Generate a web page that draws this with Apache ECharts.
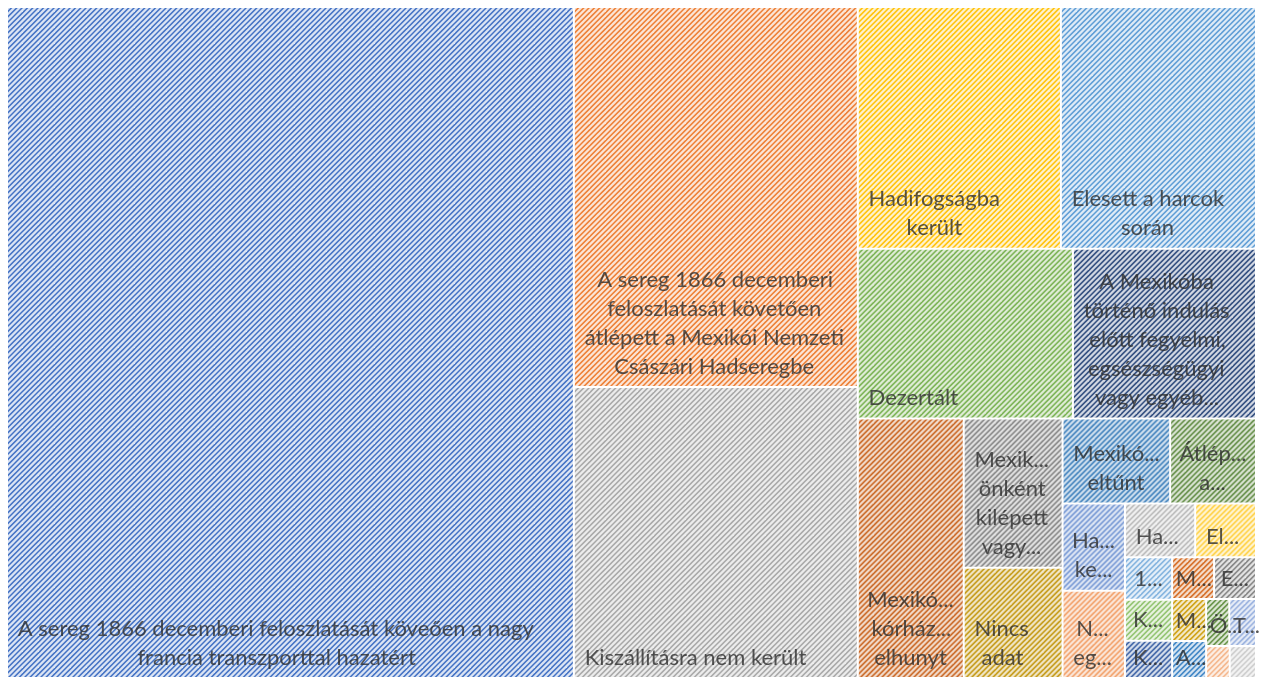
<!DOCTYPE html>
<html>
<head>
<meta charset="utf-8">
<title>Treemap</title>
<script src="https://cdn.jsdelivr.net/npm/echarts@6/dist/echarts.min.js"></script>
<style>
  html, body { margin: 0; padding: 0; background: #fff; }
  #chart { width: 1263px; height: 677px; }
</style>
</head>
<body>
<div id="chart"></div>
<script>
  // tile labels, with the line breaks the original chart used
  const names = [
    'A sereg 1866 decemberi feloszlatását köveően a nagy\nfrancia transzporttal hazatért',
    'A sereg 1866 decemberi\nfeloszlatását követően\nátlépett a Mexikói Nemzeti\nCsászári Hadseregbe',
    'Kiszállításra nem került',
    'Hadifogságba\nkerült',
    'Elesett a harcok\nsorán',
    'Dezertált',
    'A Mexikóba\ntörténő indulás\nelőtt fegyelmi,\negsészségügyi\nvagy egyéb\nokból leszerelték',
    'Mexikóban\nkórházban\nelhunyt',
    'Mexikóban\nönként\nkilépett\nvagy\nleszerelt',
    'Nincs\nadat',
    'Mexikóban\neltűnt',
    'Átlépett\na\nköztársasági\nhadseregbe',
    'Hazaszállításra\nkerült',
    'Nem\negyértelmű',
    'Hadbíróság elé\nállították',
    'Elbocsátották',
    '1867 után\nhazatért',
    'Kivégezték',
    'Kórházban\nmaradt',
    'Megszökött',
    'Egyéb',
    'Meggyilkolták',
    'Amerikába\ntávozott',
    'Öngyilkos\nlett',
    'Továbbszolgált',
    'Baleset\náldozata lett',
    'Párbajban\nelesett'
  ];

  // share of the men, %
  const values = [
    45.40, 12.88, 9.86, 5.86, 5.63, 4.36, 3.71, 3.28, 1.76, 1.30,
    1.09, 0.87, 0.65, 0.65, 0.45, 0.39, 0.24, 0.23, 0.21, 0.21,
    0.21, 0.17, 0.15, 0.13, 0.15, 0.09, 0.10
  ];

  const colors = [
    '#4472C4', '#ED7D31', '#A5A5A5', '#FFC000', '#5B9BD5', '#70AD47',
    '#264478', '#C55A11', '#7B7B7B', '#BF9000', '#2E75B6', '#548235',
    '#698ED0', '#F1975A', '#B7B7B7', '#FFCD33', '#7CAFDD', '#8CC168',
    '#335AA1', '#D26012', '#7C7C7C', '#CC9A00', '#327DC2', '#5A8A39',
    '#8FAADC', '#F4B183', '#C9C9C9'
  ];

  // tiles that share one strip of the treemap, in cutting order
  const strips = [
    [0], [1, 2], [3, 4], [5, 6], [7], [8, 9], [10, 11], [12, 13],
    [14, 15], [16, 17, 18], [19, 20], [21, 22], [23, 24], [25, 26]
  ];

  const FONT_SIZE = 22;
  const LINE_H = 29;
  const PAD_X = 10;      // where the text block starts
  const FIT_PAD = 8.5;   // room kept on each side when truncating
  const PAD_B = 5;
  const ELL = '...';

  function tint(hex, k) {
    const n = parseInt(hex.slice(1), 16);
    const m = c => Math.round(c + (255 - c) * k);
    return `rgb(${m(n >> 16)},${m((n >> 8) & 255)},${m(n & 255)})`;
  }

  // wide upward diagonal hatch
  function hatch(hex) {
    const c = document.createElement('canvas');
    c.width = c.height = 16;
    const ctx = c.getContext('2d');
    ctx.fillStyle = tint(hex, 0.81);
    ctx.fillRect(0, 0, 16, 16);
    ctx.strokeStyle = hex;
    ctx.lineWidth = 1.5;
    const step = 16 / 3;
    for (let k = -2; k <= 8; k++) {
      const s = k * step;
      ctx.beginPath();
      ctx.moveTo(s + 4, -4);
      ctx.lineTo(s - 20, 20);
      ctx.stroke();
    }
    return { image: c, repeat: 'repeat' };
  }

  // text measuring, for Excel-like wrapping and truncation
  const meter = document.createElement('canvas').getContext('2d');
  meter.font = FONT_SIZE + 'px Lato';
  const tw = s => meter.measureText(s).width;
  const SP = tw(' ');
  const HSP = tw('\u200A');

  function gap(px) {
    if (px <= 0) return '';
    const n = Math.floor(px / SP);
    const rest = px - n * SP;
    let s = ' '.repeat(n);
    if (HSP > 0.3) s += '\u200A'.repeat(Math.round(rest / HSP));
    else if (rest > SP / 2) s += ' ';
    return s;
  }

  function clip(word, avail) {
    if (tw(word) <= avail) return word;
    let n = word.length - 1;
    while (n > 1 && tw(word.slice(0, n) + ELL) > avail) n--;
    return word.slice(0, n) + ELL;
  }

  function excelLabel(params) {
    const data = chart.getModel().getSeriesByIndex(0).getData();
    const lay = data.getItemLayout(params.dataIndex);
    if (!lay) return params.name;
    const w = lay.width - 2;
    const h = lay.height - 2;
    const avail = w - 2 * FIT_PAD;
    const maxLines = Math.floor((h - PAD_B) / LINE_H);
    if (maxLines < 1) return '';

    let lines = [];
    params.name.split('\n').forEach(part => {
      if (part.includes(' ') && tw(part) <= w - 8) {
        lines.push(part);
        return;
      }
      let cur = '';
      part.split(' ').forEach(word => {
        const trial = cur ? cur + ' ' + word : word;
        if (tw(trial) <= avail) {
          cur = trial;
          return;
        }
        if (cur) lines.push(cur);
        cur = clip(word, avail);
      });
      if (cur) lines.push(cur);
    });

    if (lines.length > maxLines) {
      lines = lines.slice(0, maxLines);
      const last = lines[maxLines - 1];
      if (!last.endsWith(ELL)) {
        let n = last.length;
        while (n > 1 && tw(last.slice(0, n) + ELL) > avail) n--;
        lines[maxLines - 1] = last.slice(0, n).replace(/\s+$/, '') + ELL;
      }
    }

    // block sits at the left, its lines are centred inside it
    const widths = lines.map(tw);
    const block = Math.max(...widths);
    const left = Math.min(PAD_X, Math.max(3, (w - block) / 2));
    return lines
      .map((l, i) => gap(left + (block - widths[i]) / 2) + l)
      .join('\n');
  }

  const leaf = i => ({
    name: names[i],
    value: values[i],
    itemStyle: { color: hatch(colors[i]), borderWidth: 1, borderColor: '#fff' }
  });

  const data = strips.map(s => s.length === 1
    ? leaf(s[0])
    : { name: '', children: s.map(leaf) });

  const chart = echarts.init(document.getElementById('chart'));
  chart.setOption({
    animation: false,
    tooltip: { show: false },
    series: [{
      type: 'treemap',
      left: 7,
      top: 7,
      width: 1249,
      height: 671,
      squareRatio: 0.001,
      sort: false,
      roam: false,
      nodeClick: false,
      visibleMin: 0,
      breadcrumb: { show: false },
      itemStyle: { borderWidth: 0, gapWidth: 0, borderColor: '#fff' },
      upperLabel: { show: false },
      label: {
        show: true,
        position: 'insideBottomLeft',
        align: 'left',
        color: 'rgba(45,45,45,0.8)',
        fontFamily: 'Lato',
        fontSize: FONT_SIZE,
        lineHeight: LINE_H,
        padding: [0, 0, PAD_B, 0],
        overflow: 'none',
        formatter: excelLabel
      },
      data: data
    }]
  });
</script>
</body>
</html>
